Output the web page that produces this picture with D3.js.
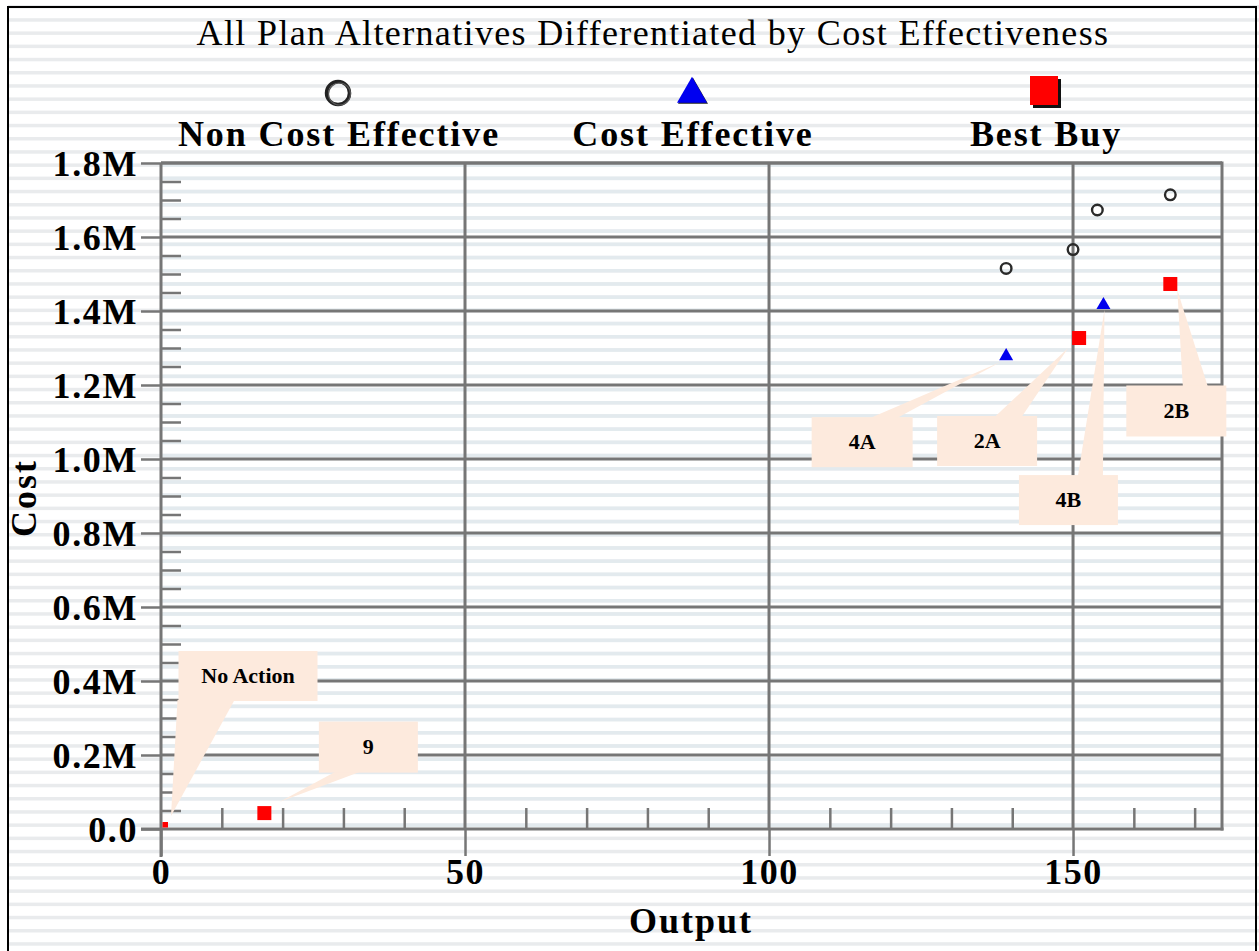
<!DOCTYPE html>
<html>
<head>
<meta charset="utf-8">
<script src="https://cdn.jsdelivr.net/npm/d3@7"></script>
<style>
  html, body { margin: 0; padding: 0; background: #ffffff; }
  svg { display: block; }
  text { font-family: "Liberation Serif", "Times New Roman", serif; fill: #000; }
</style>
</head>
<body>
<script>
// ---------------- DATA ----------------
const title = "All Plan Alternatives Differentiated by Cost Effectiveness";
const seriesNames = ["Non Cost Effective", "Cost Effective", "Best Buy"];

const nonCostEffectiveOutput = [139, 150, 154, 166];
const nonCostEffectiveCost   = [1515000, 1566000, 1673000, 1714000];

const costEffectiveLabels = ["4A", "4B"];
const costEffectiveOutput = [139, 155];
const costEffectiveCost   = [1278000, 1416000];

const bestBuyLabels = ["No Action", "9", "2A", "2B"];
const bestBuyOutput = [0, 17, 151, 166];
const bestBuyCost   = [0, 43000, 1327000, 1473000];

const xTickValues = [0, 50, 100, 150];
const yTickValues = [0, 200000, 400000, 600000, 800000, 1000000, 1200000, 1400000, 1600000, 1800000];
const yTickLabels = ["0.0", "0.2M", "0.4M", "0.6M", "0.8M", "1.0M", "1.2M", "1.4M", "1.6M", "1.8M"];
const xAxisTitle = "Output";
const yAxisTitle = "Cost";

// ---------------- LAYOUT ----------------
const W = 1259, H = 951;
const plot = { left: 161, right: 1222, top: 163, bottom: 829 };
// callout box placement relative to its point (pixels): box centre offset, wedge base offset/width, tip offset
const calloutLayout = {
  "No Action": { dx: 87,  dy: -153, w: 139, h: 50, bx: -42, bw: 57, tx: 10, ty: -13 },
  "9":         { dx: 104, dy: -66,  w: 99,  h: 51, bx: -20, bw: 25, tx: 15, ty: -11 },
  "4A":        { dx: -144, dy: 86,  w: 101, h: 50, bx: 21,  bw: 27, tx: -6, ty: 6 },
  "2A":        { dx: -92, dy: 103,  w: 100, h: 50, bx: 21,  bw: 27, tx: -11, ty: 10 },
  "4B":        { dx: -35, dy: 195,  w: 99,  h: 50, bx: 22,  bw: 25, tx: 1,  ty: 5 },
  "2B":        { dx: 6,   dy: 127,  w: 100, h: 51, bx: 19,  bw: 25, tx: 7,  ty: 6 }
};

const gridColor = "#767676";
const calloutFill = "#fdeadd";
const boldFont = { size: "36px", spacing: "1.9px" };

const svg = d3.select("body").append("svg").attr("width", W).attr("height", H);

// background with horizontal stripes
svg.append("rect").attr("width", W).attr("height", H).attr("fill", "#ffffff");
svg.append("g").selectAll("rect").data(d3.range(0, H, 13.2)).join("rect")
  .attr("x", 8).attr("width", W - 8).attr("y", d => d + 5).attr("height", 3.5)
  .attr("fill", "#e9ebed");
svg.append("g").selectAll("rect").data(d3.range(0, H, 13.2).filter(d => d + 5 > plot.top && d + 5 < plot.bottom)).join("rect")
  .attr("x", plot.left).attr("width", plot.right - plot.left).attr("y", d => d + 5).attr("height", 3.5)
  .attr("fill", "#e3eaee");

// outer frame
svg.append("path")
  .attr("d", `M8,${H + 2} L8,7 L1256,7 L1256,${H + 2}`)
  .attr("fill", "none").attr("stroke", "#000").attr("stroke-width", 2);

// scales
const x = d3.scaleLinear().domain([0, 174.5]).range([plot.left, plot.right]);
const y = d3.scaleLinear().domain([0, 1800000]).range([plot.bottom, plot.top]);

// title
svg.append("text").attr("x", 653).attr("y", 45).attr("text-anchor", "middle")
  .style("font-size", "36px").style("letter-spacing", "1.35px").text(title);

// legend
const legendX = [338, 692, 1045];
const lg = svg.append("g");
seriesNames.forEach((name, i) => {
  lg.append("text").attr("x", legendX[i] + 1).attr("y", 146).attr("text-anchor", "middle")
    .style("font-size", boldFont.size).style("letter-spacing", boldFont.spacing)
    .style("font-weight", "bold").text(name);
});
// legend symbols
lg.append("circle").attr("cx", legendX[0]).attr("cy", 93).attr("r", 11.5)
  .attr("fill", "none").attr("stroke", "#222").attr("stroke-width", 3.5);
lg.append("circle").attr("cx", legendX[0] + 1.5).attr("cy", 94).attr("r", 11)
  .attr("fill", "none").attr("stroke", "#555").attr("stroke-width", 1.2);
lg.append("path").attr("transform", `translate(${legendX[1] + 1},${95})`)
  .attr("d", d3.symbol(d3.symbolTriangle, 390)()).attr("fill", "#222");
lg.append("path").attr("transform", `translate(${legendX[1]},${94})`)
  .attr("d", d3.symbol(d3.symbolTriangle, 390)()).attr("fill", "#0000f0");
lg.append("rect").attr("x", legendX[2] - 12).attr("y", 79).attr("width", 28).attr("height", 29).attr("fill", "#111");
lg.append("rect").attr("x", legendX[2] - 15).attr("y", 76).attr("width", 28).attr("height", 29).attr("fill", "#ff0000");

// gridlines
const grid = svg.append("g").attr("stroke", gridColor).attr("stroke-width", 3);
grid.selectAll("line.v").data(xTickValues.filter(v => v > 0)).join("line").attr("class", "v")
  .attr("x1", d => x(d)).attr("x2", d => x(d)).attr("y1", plot.top).attr("y2", plot.bottom);
grid.selectAll("line.h").data(yTickValues.filter(v => v > 0)).join("line").attr("class", "h")
  .attr("x1", plot.left).attr("x2", plot.right).attr("y1", d => y(d)).attr("y2", d => y(d));
grid.append("line").attr("x1", plot.right).attr("x2", plot.right).attr("y1", plot.top - 1.5).attr("y2", plot.bottom + 1.5);
grid.append("line").attr("x1", plot.left).attr("x2", plot.right).attr("y1", plot.top).attr("y2", plot.top);

// y axis
const yMinor = d3.range(0, 1800001, 50000).filter(v => v % 200000 !== 0);
const yAxisMajor = d3.axisLeft(y).tickValues(yTickValues).tickSize(20).tickPadding(3)
  .tickFormat((d, i) => yTickLabels[i]);
const gy = svg.append("g").attr("transform", `translate(${plot.left},0)`).call(yAxisMajor);
gy.select(".domain").attr("stroke", gridColor).attr("stroke-width", 3).attr("d", `M0,${plot.top}V${plot.bottom + 28}`);
gy.selectAll(".tick line").attr("stroke", gridColor).attr("stroke-width", 2.5);
gy.selectAll(".tick text").style("font-size", boldFont.size).style("letter-spacing", "1.6px")
  .style("font-weight", "bold").attr("fill", "#000").attr("font-family", null).attr("dy", "0.34em");
const yAxisMinor = d3.axisRight(y).tickValues(yMinor).tickSize(20).tickFormat("");
const gym = svg.append("g").attr("transform", `translate(${plot.left},0)`).call(yAxisMinor);
gym.select(".domain").remove();
gym.selectAll(".tick line").attr("stroke", gridColor).attr("stroke-width", 2.5);

// x axis
const xMinor = d3.range(10, 175, 10).filter(v => v % 50 !== 0);
const xAxisMajor = d3.axisBottom(x).tickValues(xTickValues).tickSize(27).tickPadding(2).tickFormat(d3.format("d"));
const gx = svg.append("g").attr("transform", `translate(0,${plot.bottom})`).call(xAxisMajor);
gx.select(".domain").attr("stroke", gridColor).attr("stroke-width", 3).attr("d", `M${plot.left - 20},0H${plot.right + 1.5}`);
gx.selectAll(".tick line").attr("stroke", gridColor).attr("stroke-width", 2.5);
gx.selectAll(".tick text").style("font-size", boldFont.size).style("letter-spacing", "1.5px")
  .style("font-weight", "bold").attr("fill", "#000").attr("font-family", null);
const xAxisMinor = d3.axisTop(x).tickValues(xMinor).tickSize(21).tickFormat("");
const gxm = svg.append("g").attr("transform", `translate(0,${plot.bottom})`).call(xAxisMinor);
gxm.select(".domain").remove();
gxm.selectAll(".tick line").attr("stroke", gridColor).attr("stroke-width", 2.5);

// axis titles
svg.append("text").attr("x", 691).attr("y", 933).attr("text-anchor", "middle")
  .style("font-size", boldFont.size).style("letter-spacing", "2px").style("font-weight", "bold").text(xAxisTitle);
svg.append("text").attr("transform", "translate(36,498) rotate(-90)").attr("text-anchor", "middle")
  .style("font-size", boldFont.size).style("letter-spacing", "2px").style("font-weight", "bold").text(yAxisTitle);

// clip for marks
svg.append("clipPath").attr("id", "plotclip").append("rect")
  .attr("x", plot.left + 1.5).attr("y", plot.top).attr("width", plot.right - plot.left).attr("height", plot.bottom - plot.top - 1.5);

// callouts (drawn below markers)
const labelled = [];
costEffectiveLabels.forEach((l, i) => labelled.push({ label: l, px: x(costEffectiveOutput[i]), py: y(costEffectiveCost[i]) }));
bestBuyLabels.forEach((l, i) => labelled.push({ label: l, px: x(bestBuyOutput[i]), py: y(bestBuyCost[i]) }));

const cg = svg.append("g");
labelled.forEach(d => {
  const L = calloutLayout[d.label];
  const cx = d.px + L.dx, cy = d.py + L.dy;
  const bx0 = cx - L.w / 2, by0 = cy - L.h / 2;
  const baseY = L.dy < 0 ? by0 + L.h - 1 : by0 + 1;
  const bc = cx + L.bx;
  cg.append("path")
    .attr("d", `M${bc - L.bw / 2},${baseY} L${d.px + L.tx},${d.py + L.ty} L${bc + L.bw / 2},${baseY} Z`)
    .attr("fill", calloutFill);
  cg.append("rect").attr("x", bx0).attr("y", by0).attr("width", L.w).attr("height", L.h).attr("fill", calloutFill);
  cg.append("text").attr("x", cx).attr("y", cy).attr("dy", "0.33em").attr("text-anchor", "middle")
    .style("font-size", "22px").style("font-weight", "bold").text(d.label);
});

// markers
const mg = svg.append("g").attr("clip-path", "url(#plotclip)");
mg.selectAll("circle.nce").data(nonCostEffectiveOutput).join("circle").attr("class", "nce")
  .attr("cx", d => x(d)).attr("cy", (d, i) => y(nonCostEffectiveCost[i])).attr("r", 5.3)
  .attr("fill", "none").attr("stroke", "#2a2a2a").attr("stroke-width", 2.4);
mg.selectAll("path.ce").data(costEffectiveOutput).join("path").attr("class", "ce")
  .attr("transform", (d, i) => `translate(${x(d)},${y(costEffectiveCost[i])})`)
  .attr("d", d3.symbol(d3.symbolTriangle, 85)()).attr("fill", "#0000ee");
mg.selectAll("rect.bb").data(bestBuyOutput).join("rect").attr("class", "bb")
  .attr("x", d => x(d) - 7).attr("y", (d, i) => y(bestBuyCost[i]) - 7)
  .attr("width", 14).attr("height", 14).attr("fill", "#ff0000");
</script>
</body>
</html>
